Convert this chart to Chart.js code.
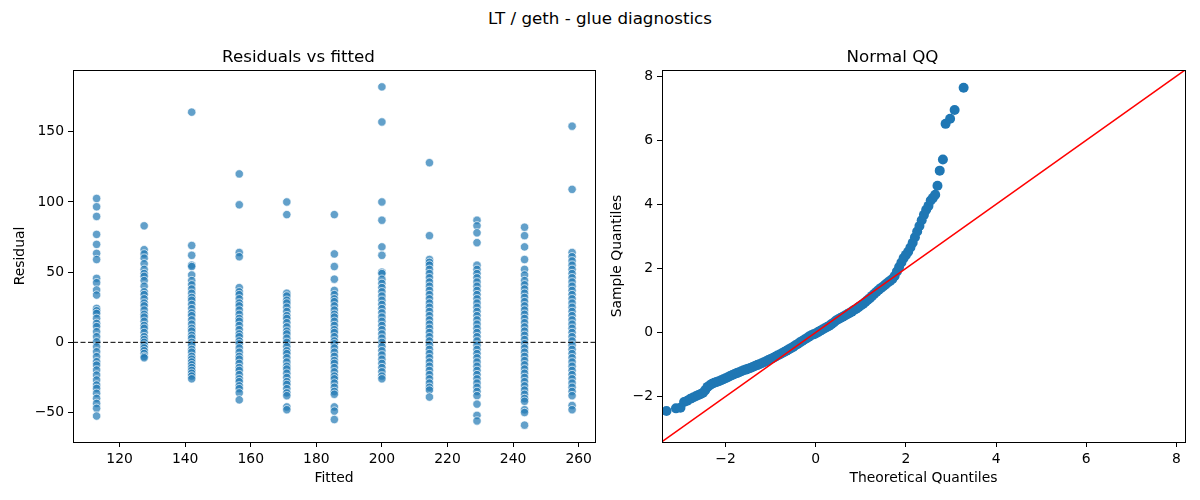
<!DOCTYPE html>
<html>
<head>
<meta charset="utf-8">
<script src="https://cdn.jsdelivr.net/npm/chart.js@4/dist/chart.umd.min.js"></script>
<style>
  body { margin: 0; background: #fff; }
  #wrap { position: relative; width: 1200px; height: 500px; font-family: 'DejaVu Sans', sans-serif; }
  #suptitle { position: absolute; top: 8px; left: 0; width: 1200px; text-align: center; font-size: 16.7px; line-height: 20px; color: #000; }
  canvas { position: absolute; top: 0; }
</style>
</head>
<body>
<div id="wrap">
  <div id="suptitle">LT / geth - glue diagnostics</div>
  <canvas id="residChart" width="600" height="500" style="left:0"></canvas>
  <canvas id="qqChart" width="600" height="500" style="left:600px"></canvas>
</div>
<script>
// fitted levels (x of each column)
var fitted = [113, 127.5, 142, 156.5, 171, 185.5, 200, 214.5, 229, 243.5, 258];

// residuals
var resid1 = [102.5, 96.6, 89.7, 76.9, 69.8, 63.4, 59, 45.6, 42.5, 37.3, 33.7, 24.2, 22.5, 20.6, 17.1, 13.5, 11.2, 7.6, 4, 0.4, -3.1, -6.7, -10.2, -13.8, -16.2, -19.7, -23.3, -26.8, -30.4, -32.8, -36.3, -39.9, -43.5, -47, -52.5];
var resid2 = [83, 66, 63, 60, 56, 52, 49, 47, 44, 40, 36, 34, 31, 28, 26, 23, 20, 18, 15, 12, 10, 7, 4, 2, 0, -2, -4, -6, -8, -10, -11];
var resid3 = [164, 69, 62, 55, 54, 48, 44, 41, 38, 35, 32, 30, 27, 24, 21, 19, 16, 13, 10, 8, 5, 3, 0, -2, -5, -7, -10, -12, -14, -16, -18, -20, -22, -24, -26];
var resid4 = [120, 98, 64, 61, 39, 36, 34, 31, 28, 26, 23, 20, 17, 15, 12, 9, 6, 4, 1, -1, -4, -7, -10, -12, -15, -18, -20, -23, -26, -28, -31, -33, -36, -41];
var resid5 = [100, 91, 35, 33, 30, 28, 25, 22, 19, 17, 14, 11, 8, 6, 3, 0, -3, -6, -8, -11, -14, -17, -19, -22, -25, -28, -30, -33, -36, -38, -46, -48];
var resid6 = [91, 63, 54, 45, 37, 34, 31, 29, 26, 23, 20, 18, 15, 12, 9, 7, 4, 1, -1, -4, -7, -10, -13, -15, -18, -21, -24, -26, -29, -32, -35, -37, -46, -49, -55];
var resid7 = [182, 157, 100, 87, 68, 62, 50, 49, 45, 42, 39, 36, 33, 30, 27, 24, 21, 18, 15, 12, 9, 6, 3, 0, -3, -6, -9, -12, -15, -18, -21, -24, -26];
var resid8 = [128, 76, 59, 57, 55, 52, 49, 46, 43, 40, 37, 34, 31, 28, 25, 22, 19, 16, 13, 10, 7, 4, 1, -2, -5, -8, -11, -14, -17, -20, -23, -26, -29, -32, -34, -39];
var resid9 = [87, 83, 78, 71, 55, 52, 49, 46, 43, 40, 37, 34, 31, 28, 25, 22, 19, 16, 13, 10, 7, 4, 1, -2, -5, -8, -11, -14, -17, -20, -23, -26, -29, -32, -35, -38, -44, -52, -56];
var resid10 = [82, 76, 68, 59, 52, 48, 44, 41, 38, 35, 32, 29, 26, 23, 20, 17, 14, 11, 8, 5, 2, -1, -4, -7, -10, -13, -16, -19, -22, -25, -28, -31, -34, -37, -40, -42, -48, -50, -59];
var resid11 = [154, 109, 64, 61, 58, 55, 52, 49, 46, 43, 40, 37, 34, 31, 28, 25, 22, 19, 16, 13, 10, 7, 4, 1, -2, -5, -8, -11, -14, -17, -20, -23, -26, -29, -32, -35, -38, -45, -48];
var residGroups = [resid1, resid2, resid3, resid4, resid5, resid6, resid7, resid8, resid9, resid10, resid11];

// QQ points (theoretical, sample)
var qqTheo = [
  -3.31, -3.10, -3.00, -2.92, -2.85, -2.78, -2.72, -2.66, -2.60, -2.55,
  -2.50, -2.45, -2.40, -2.35, -2.30, -2.25, -2.20, -2.15, -2.10, -2.05,
  -2.00, -1.95, -1.90, -1.85, -1.80, -1.75, -1.70, -1.65, -1.60, -1.55,
  -1.50, -1.45, -1.40, -1.35, -1.30, -1.25, -1.20, -1.15, -1.10, -1.05,
  -1.00, -0.95, -0.90, -0.85, -0.80, -0.75, -0.70, -0.65, -0.60, -0.55,
  -0.50, -0.45, -0.40, -0.35, -0.30, -0.25, -0.20, -0.15, -0.10, -0.05,
  0.00, 0.05, 0.10, 0.15, 0.20, 0.25, 0.30, 0.35, 0.40, 0.45,
  0.50, 0.55, 0.60, 0.65, 0.70, 0.75, 0.80, 0.85, 0.90, 0.95,
  1.00, 1.05, 1.10, 1.15, 1.20, 1.25, 1.30, 1.35, 1.40, 1.45,
  1.50, 1.55, 1.60, 1.65, 1.70, 1.75, 1.80, 1.85, 1.90, 1.95,
  2.00, 2.05, 2.10, 2.15, 2.20, 2.25, 2.30, 2.35, 2.40, 2.45,
  2.50, 2.55, 2.60, 2.65, 2.70, 2.75, 2.82, 2.88, 2.98, 3.08,
  3.28];
var qqSample = [
  -2.45, -2.37, -2.35, -2.17, -2.13, -2.07, -2.03, -1.99, -1.95, -1.92,
  -1.88, -1.80, -1.70, -1.65, -1.60, -1.57, -1.55, -1.52, -1.49, -1.46,
  -1.43, -1.40, -1.36, -1.33, -1.30, -1.27, -1.24, -1.21, -1.18, -1.16,
  -1.13, -1.11, -1.08, -1.05, -1.02, -0.99, -0.96, -0.93, -0.90, -0.86,
  -0.83, -0.80, -0.76, -0.72, -0.69, -0.65, -0.61, -0.57, -0.53, -0.49,
  -0.45, -0.40, -0.36, -0.31, -0.27, -0.22, -0.18, -0.13, -0.09, -0.06,
  -0.03, 0.01, 0.05, 0.09, 0.13, 0.17, 0.21, 0.26, 0.31, 0.37,
  0.41, 0.45, 0.49, 0.53, 0.57, 0.61, 0.65, 0.70, 0.74, 0.79,
  0.84, 0.89, 0.95, 1.01, 1.07, 1.14, 1.21, 1.27, 1.33, 1.39,
  1.44, 1.50, 1.56, 1.61, 1.67, 1.76, 1.90, 2.04, 2.18, 2.32,
  2.42, 2.52, 2.65, 2.80, 2.97, 3.15, 3.32, 3.50, 3.67, 3.83,
  3.95, 4.12, 4.20, 4.30, 4.58, 5.05, 5.40, 6.51, 6.67, 6.94,
  7.64];

// axis ticks
var residXTicks = [120, 140, 160, 180, 200, 220, 240, 260];
var residYTicks = [-50, 0, 50, 100, 150];
var qqTicks = [-2, 0, 2, 4, 6, 8];

Chart.defaults.font.family = "'DejaVu Sans', sans-serif";
Chart.defaults.color = '#000';
Chart.defaults.animation = false;

function minusFmt(v) {
  return String(v).replace('-', '\u2212');
}

// black box round the plot area
const frame = {
  id: 'frame',
  afterDraw(chart) {
    const a = chart.chartArea;
    const ctx = chart.ctx;
    ctx.save();
    ctx.strokeStyle = '#000';
    ctx.lineWidth = 1;
    ctx.strokeRect(Math.round(a.left) + 0.5, Math.round(a.top) + 0.5, Math.round(a.right - a.left), Math.round(a.bottom - a.top));
    ctx.restore();
  }
};

function axis(min, max, tickVals, titleText, isX, width) {
  return {
    type: 'linear',
    min: min,
    max: max,
    afterBuildTicks: function (s) { s.ticks = tickVals.map(v => ({ value: v })); },
    afterFit: function (s) {
      if (isX) s.height = 58; else s.width = width;
    },
    grid: { drawOnChartArea: false, drawTicks: true, tickLength: 5, color: '#000' },
    border: { display: false },
    ticks: { font: { size: 13.9 }, padding: 4, maxRotation: 0, autoSkip: false, callback: function (v) { return minusFmt(v); } },
    title: { display: true, text: titleText, font: { size: 13.9 }, padding: isX ? { top: 0, bottom: 13 } : { top: width == 73 ? 12 : 9, bottom: 0 } }
  };
}

function titleOpts(text) {
  return { display: true, text: text, font: { size: 16.7, weight: 'normal' }, color: '#000', padding: { top: 48, bottom: 2 } };
}

// ---- residuals vs fitted
var residPts = [];
for (var i = 0; i < fitted.length; i++) {
  residGroups[i].forEach(function (r) { residPts.push({ x: fitted[i], y: r }); });
}

new Chart(document.getElementById('residChart'), {
  type: 'scatter',
  data: {
    datasets: [
      {
        type: 'line',
        data: [{ x: 105.8, y: 0 }, { x: 265, y: 0 }],
        borderColor: '#000',
        borderWidth: 1,
        borderDash: [5, 2.5],
        pointRadius: 0
      },
      {
        data: residPts,
        pointRadius: 4.2,
        backgroundColor: 'rgba(31,119,180,0.7)',
        borderColor: 'rgba(255,255,255,0.9)',
        borderWidth: 0.75
      }
    ]
  },
  options: {
    responsive: false,
    layout: { padding: { left: 0, right: 3, top: 0, bottom: 0 } },
    plugins: { legend: { display: false }, tooltip: { enabled: false }, title: titleOpts('Residuals vs fitted') },
    scales: {
      x: axis(105.8, 265, residXTicks, 'Fitted', true),
      y: axis(-71, 194, residYTicks, 'Residual', false, 73)
    }
  },
  plugins: [frame]
});

// ---- normal QQ
var qqPts = qqTheo.map(function (t, k) { return { x: t, y: qqSample[k] }; });

new Chart(document.getElementById('qqChart'), {
  type: 'scatter',
  data: {
    datasets: [
      {
        type: 'line',
        data: [{ x: -3.41, y: -3.41 }, { x: 8.19, y: 8.19 }],
        borderColor: '#ff0000',
        borderWidth: 1.5,
        pointRadius: 0
      },
      {
        data: qqPts,
        pointRadius: 5,
        backgroundColor: '#1f77b4',
        borderColor: '#1f77b4',
        borderWidth: 0
      }
    ]
  },
  options: {
    responsive: false,
    layout: { padding: { left: 0, right: 15, top: 0, bottom: 0 } },
    plugins: { legend: { display: false }, tooltip: { enabled: false }, title: titleOpts('Normal QQ') },
    scales: {
      x: axis(-3.41, 8.19, qqTicks, 'Theoretical Quantiles', true),
      y: axis(-3.42, 8.19, qqTicks, 'Sample Quantiles', false, 62)
    }
  },
  plugins: [frame]
});
</script>
</body>
</html>
